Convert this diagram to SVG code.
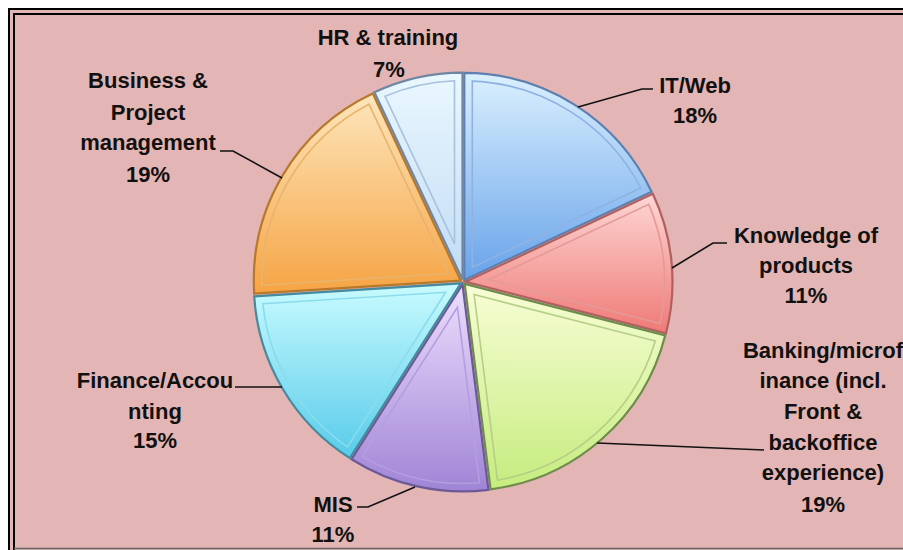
<svg xmlns="http://www.w3.org/2000/svg" width="903" height="550" viewBox="0 0 903 550">
<style>
.lbl{font-family:"Liberation Sans",Arial,sans-serif;font-weight:bold;font-size:22px;fill:#111;text-anchor:middle}
.lead{fill:none;stroke:#111;stroke-width:1.6}
.inner{fill:none;stroke-width:1.6}
</style>
<defs>
<linearGradient id="gIT" x1="0" y1="0" x2="0" y2="1"><stop offset="0" stop-color="#dbf0fe"/><stop offset="1" stop-color="#68a3ea"/></linearGradient>
<linearGradient id="gKN" x1="0" y1="0" x2="0" y2="1"><stop offset="0" stop-color="#fdd6d4"/><stop offset="1" stop-color="#ef7a76"/></linearGradient>
<linearGradient id="gBK" x1="0" y1="0" x2="0" y2="1"><stop offset="0" stop-color="#f8fdd6"/><stop offset="1" stop-color="#c6ec7e"/></linearGradient>
<linearGradient id="gMI" x1="0" y1="0" x2="0" y2="1"><stop offset="0" stop-color="#eedffd"/><stop offset="1" stop-color="#a084d6"/></linearGradient>
<linearGradient id="gFI" x1="0" y1="0" x2="0" y2="1"><stop offset="0" stop-color="#c8fbfe"/><stop offset="1" stop-color="#58cbea"/></linearGradient>
<linearGradient id="gBU" x1="0" y1="0" x2="0" y2="1"><stop offset="0" stop-color="#fde6bc"/><stop offset="1" stop-color="#f6a444"/></linearGradient>
<linearGradient id="gHR" x1="0" y1="0" x2="0" y2="1"><stop offset="0" stop-color="#eaf7fe"/><stop offset="1" stop-color="#c2dcf5"/></linearGradient>
</defs>
<rect x="0" y="0" width="903" height="550" fill="#ffffff"/>
<rect x="8" y="8" width="895" height="542" fill="#e3b5b5"/>
<path d="M9,550 V9 H903" fill="none" stroke="#000" stroke-width="2"/>
<path d="M14,550 V14 H903" fill="none" stroke="#000" stroke-width="2"/>
<path d="M14,548.5 H903" fill="none" stroke="#666" stroke-width="1.5"/>

<g id="slice-it" transform="translate(1.3,-2.1)">
<path d="M463,282 L463,75 A207,207 0 0 1 650.3,193.9 Z" fill="url(#gIT)" stroke="#5f7fae" stroke-width="2.2"/>
<path class="inner" d="M471,269.4 L471,83.2 A199,199 0 0 1 639.5,190.1 Z" stroke="#8fb2e0"/>
</g>
<g id="slice-knowledge" transform="translate(2.5,-0.2)">
<path d="M463,282 L650.3,193.9 A207,207 0 0 1 663.5,333.5 Z" fill="url(#gKN)" stroke="#b06060" stroke-width="2.2"/>
<path class="inner" d="M486.5,279.8 L646.3,204.6 A199,199 0 0 1 657.6,323.7 Z" stroke="#e39a98"/>
</g>
<g id="slice-banking" transform="translate(1.7,1.9)">
<path d="M463,282 L663.5,333.5 A207,207 0 0 1 488.9,487.4 Z" fill="url(#gBK)" stroke="#6e8c4c" stroke-width="2.2"/>
<path class="inner" d="M472.4,292.7 L653.6,339.2 A199,199 0 0 1 495.8,478.3 Z" stroke="#b5cf86"/>
</g>
<g id="slice-mis" transform="translate(-0.5,2.4)">
<path d="M463,282 L488.9,487.4 A207,207 0 0 1 352.1,456.8 Z" fill="url(#gMI)" stroke="#6c5a98" stroke-width="2.2"/>
<path class="inner" d="M457.9,305 L480,480.3 A199,199 0 0 1 363.2,454.2 Z" stroke="#b49ee0"/>
</g>
<g id="slice-finance" transform="translate(-2.2,1.3)">
<path d="M463,282 L352.1,456.8 A207,207 0 0 1 256.4,295 Z" fill="url(#gFI)" stroke="#468a9e" stroke-width="2.2"/>
<path class="inner" d="M447.9,291 L349.7,445.6 A199,199 0 0 1 265.1,302.5 Z" stroke="#8adced"/>
</g>
<g id="slice-business" transform="translate(-2.2,-1.3)">
<path d="M463,282 L256.4,295 A207,207 0 0 1 374.9,94.7 Z" fill="url(#gBU)" stroke="#b8782a" stroke-width="2.2"/>
<path class="inner" d="M450.8,274.8 L264.1,286.5 A199,199 0 0 1 371.1,105.5 Z" stroke="#e8b46e"/>
</g>
<g id="slice-hr" transform="translate(-0.5,-2.4)">
<path d="M463,282 L374.9,94.7 A207,207 0 0 1 463,75 Z" fill="url(#gHR)" stroke="#6f87a3" stroke-width="2.2"/>
<path class="inner" d="M455,246.2 L385.6,98.7 A199,199 0 0 1 455,83.2 Z" stroke="#a8c2dc"/>
</g>

<g id="connectors">
<polyline class="lead" points="578,107 642,89 653,89"/>
<polyline class="lead" points="672,268 713,243 727,243"/>
<polyline class="lead" points="597,443 764,450"/>
<polyline class="lead" points="415,487 368,507 357,507"/>
<polyline class="lead" points="282,387 235,387"/>
<polyline class="lead" points="282,178 233,151 220,151"/>
</g>

<g id="label-hr">
<text class="lbl" x="388" y="45">HR &amp; training</text>
<text class="lbl" x="389" y="77">7%</text>
</g>
<g id="label-it">
<text class="lbl" x="695" y="93">IT/Web</text>
<text class="lbl" x="695" y="123">18%</text>
</g>
<g id="label-knowledge">
<text class="lbl" x="806" y="243">Knowledge of</text>
<text class="lbl" x="806" y="273">products</text>
<text class="lbl" x="806" y="303">11%</text>
</g>
<g id="label-banking">
<text class="lbl" x="823" y="358">Banking/microf</text>
<text class="lbl" x="823" y="388">inance (incl.</text>
<text class="lbl" x="823" y="419">Front &amp;</text>
<text class="lbl" x="823" y="450">backoffice</text>
<text class="lbl" x="823" y="480">experience)</text>
<text class="lbl" x="823" y="512">19%</text>
</g>
<g id="label-mis">
<text class="lbl" x="333" y="512">MIS</text>
<text class="lbl" x="333" y="542">11%</text>
</g>
<g id="label-finance">
<text class="lbl" x="155" y="388">Finance/Accou</text>
<text class="lbl" x="155" y="419">nting</text>
<text class="lbl" x="155" y="448">15%</text>
</g>
<g id="label-business">
<text class="lbl" x="148" y="88">Business &amp;</text>
<text class="lbl" x="148" y="120">Project</text>
<text class="lbl" x="148" y="150">management</text>
<text class="lbl" x="148" y="182">19%</text>
</g>
</svg>
